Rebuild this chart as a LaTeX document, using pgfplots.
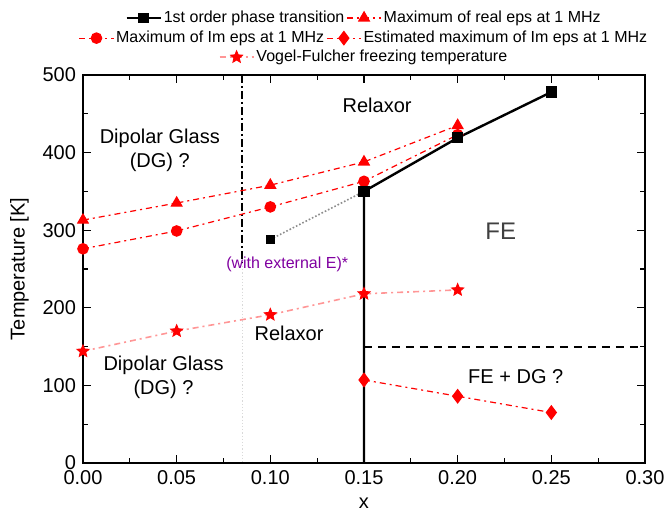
\documentclass[border=0pt]{standalone}
\usepackage{pgfplots}
\pgfplotsset{compat=1.18}
\usetikzlibrary{calc}
\usepackage{fontspec}
\setmainfont{Liberation Sans}
\definecolor{vfline}{RGB}{255,150,150}
\definecolor{purp}{RGB}{128,0,160}
\pgfdeclareplotmark{fstar}{%
  \pgfpathmoveto{\pgfpointpolar{90}{\pgfplotmarksize}}%
  \pgfpathlineto{\pgfpointpolar{126}{0.45\pgfplotmarksize}}%
  \pgfpathlineto{\pgfpointpolar{162}{\pgfplotmarksize}}%
  \pgfpathlineto{\pgfpointpolar{198}{0.45\pgfplotmarksize}}%
  \pgfpathlineto{\pgfpointpolar{234}{\pgfplotmarksize}}%
  \pgfpathlineto{\pgfpointpolar{270}{0.45\pgfplotmarksize}}%
  \pgfpathlineto{\pgfpointpolar{306}{\pgfplotmarksize}}%
  \pgfpathlineto{\pgfpointpolar{342}{0.45\pgfplotmarksize}}%
  \pgfpathlineto{\pgfpointpolar{18}{\pgfplotmarksize}}%
  \pgfpathlineto{\pgfpointpolar{54}{0.45\pgfplotmarksize}}%
  \pgfpathclose
  \pgfusepathqfillstroke
}
\begin{document}
\begin{tikzpicture}
\pgfplotsset{
  common/.style={width=281pt,height=194pt,scale only axis,
    xmin=0,xmax=0.3,ymin=0,ymax=500},
  hid/.style={common,hide axis,
    legend style={draw=none,fill=none,font=\footnotesize,inner sep=0pt,
      column sep=0pt,nodes={inner sep=1pt},anchor=center},
    legend cell align=left},
  vfstyle/.style={vfline, line width=0.8pt, dash pattern=on 3pt off 2pt on 1pt off 2pt, mark=fstar, mark size=3.2pt, mark options={solid,red,fill=red,line width=0.4pt}},
}
\begin{axis}[common, name=main,
  axis line style={line width=0.9pt},
  tick align=inside, tick style={black,line width=0.6pt},
  major tick length=4pt, minor tick length=2.5pt,
  xtick={0,0.05,...,0.3}, ytick={0,100,...,500},
  minor x tick num=1, minor y tick num=1,
  xticklabel style={/pgf/number format/.cd,fixed,fixed zerofill,precision=2},
  /pgf/number format/assume math mode=true,
  ticklabel style={font=\normalsize},
  xlabel={x}, ylabel={Temperature [K]},
  label style={font=\normalsize},
  clip=false]
% vertical boundary line
\addplot[black, line width=1pt, dash pattern=on 4pt off 1.5pt on 1pt off 1.5pt] coordinates {(0.085,500) (0.085,258)};
\addplot[black!15, line width=0.6pt, densely dotted] coordinates {(0.085,258) (0.085,0)};
% horizontal dashed boundary
\addplot[black, line width=1pt, dash pattern=on 4pt off 3pt] coordinates {(0.15,150) (0.3,150)};
% dotted gray link
\addplot[black!45, line width=0.8pt, densely dotted] coordinates {(0.1,288) (0.15,350)};
% Max real eps
\addplot[red, line width=0.6pt, dash pattern=on 3pt off 2pt on 1pt off 2pt, mark=triangle*, mark size=3pt, mark options={solid}] coordinates {
(0,313) (0.05,335) (0.1,358) (0.15,388) (0.2,435)};
% Max Im eps
\addplot[red, line width=0.6pt, dash pattern=on 3pt off 2pt on 1pt off 2pt, mark=*, mark size=2.6pt, mark options={solid}] coordinates {
(0,276) (0.05,299) (0.1,330) (0.15,363) (0.2,423)};
% Estimated max Im eps
\addplot[red, line width=0.6pt, dash pattern=on 3pt off 2pt on 1pt off 2pt, mark=diamond*, mark size=3.3pt, mark options={solid}] coordinates {
(0.15,107) (0.2,86) (0.25,65)};
% Vogel-Fulcher
\addplot[vfstyle] coordinates {
(0,144) (0.05,170) (0.1,191) (0.15,218) (0.2,223)};
% 1st order phase transition
\addplot[black, line width=1.2pt, mark=square*, mark size=2.2pt, mark indices={2,3,4}] coordinates {
(0.15,0) (0.15,350) (0.2,419) (0.25,478)};
\addplot[black, only marks, mark=square*, mark size=2.2pt] coordinates {(0.1,288)};
% labels
\node[font=\normalsize] at (axis cs:0.157,461) {Relaxor};
\node[font=\normalsize, align=center] at (axis cs:0.041,403) {Dipolar Glass\\(DG) ?};
\node[font=\large, text=black!75] at (axis cs:0.223,298) {FE};
\node[font=\footnotesize, text=purp] at (axis cs:0.109,256) {(with external E)*};
\node[font=\normalsize] at (axis cs:0.11,167) {Relaxor};
\node[font=\normalsize, align=center] at (axis cs:0.043,110) {Dipolar Glass\\(DG) ?};
\node[font=\normalsize] at (axis cs:0.231,111) {FE + DG ?};
\end{axis}
\begin{axis}[hid, legend columns=2, legend style={at={(0.5,1.147)}}]
\addlegendimage{black, line width=1.2pt, mark=square*, mark size=2pt}
\addlegendentry{1st order phase transition}
\addlegendimage{red, line width=0.6pt, dash pattern=on 3pt off 2pt on 1pt off 2pt, mark=triangle*, mark size=3pt, mark options={solid}}
\addlegendentry{Maximum of real eps at 1 MHz}
\end{axis}
\begin{axis}[hid, legend columns=2, legend style={at={(0.5,1.095)}}]
\addlegendimage{red, line width=0.6pt, dash pattern=on 3pt off 2pt on 1pt off 2pt, mark=*, mark size=2.6pt, mark options={solid}}
\addlegendentry{Maximum of Im eps at 1 MHz}
\addlegendimage{red, line width=0.6pt, dash pattern=on 3pt off 2pt on 1pt off 2pt, mark=diamond*, mark size=3.3pt, mark options={solid}}
\addlegendentry{Estimated maximum of Im eps at 1 MHz}
\end{axis}
\begin{axis}[hid, legend style={at={(0.5,1.046)}}]
\addlegendimage{vfstyle}
\addlegendentry{Vogel-Fulcher freezing temperature}
\end{axis}
\pgfresetboundingbox
\path ($(main.south west)+(-41.5pt,-25.5pt)$) rectangle ($(main.north east)+(10pt,37.5pt)$);
\end{tikzpicture}
\end{document}
